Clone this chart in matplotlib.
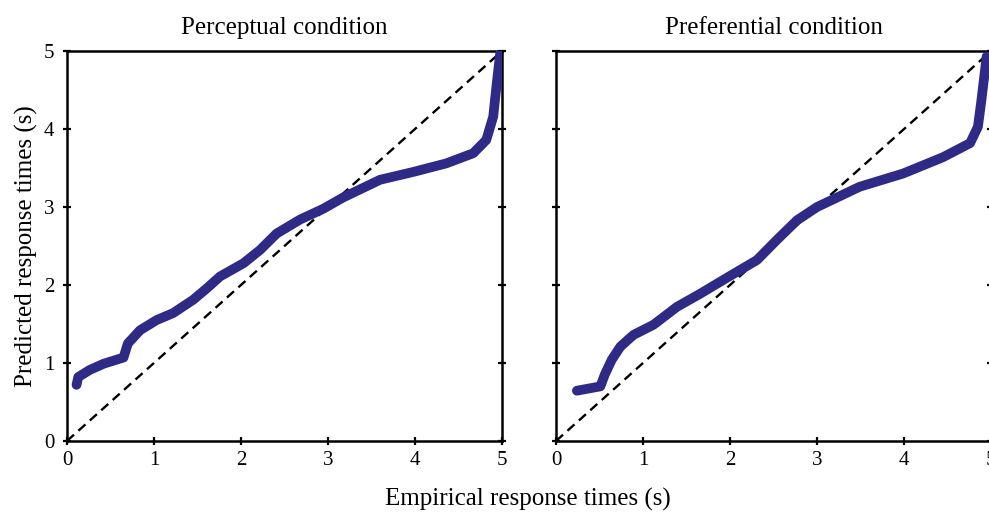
import matplotlib.pyplot as plt

# Q-Q style comparison: empirical vs predicted response-time quantiles
percep_emp = [0.11, 0.13, 0.26, 0.42, 0.65, 0.70, 0.84, 1.03, 1.22, 1.45, 1.61, 1.76,
              2.03, 2.22, 2.41, 2.68, 2.95, 3.17, 3.60, 3.98, 4.36, 4.67, 4.82, 4.90,
              4.94, 4.98]
percep_pred = [0.72, 0.82, 0.91, 0.99, 1.07, 1.25, 1.42, 1.55, 1.64, 1.81, 1.96, 2.11,
               2.28, 2.45, 2.66, 2.84, 2.98, 3.12, 3.35, 3.45, 3.56, 3.69, 3.86, 4.16,
               4.58, 4.97]

pref_emp = [0.24, 0.51, 0.56, 0.64, 0.74, 0.89, 1.12, 1.39, 1.66, 1.96, 2.31, 2.54,
            2.77, 3.00, 3.49, 3.99, 4.45, 4.76, 4.85, 4.89, 4.95]
pref_pred = [0.645, 0.70, 0.85, 1.04, 1.21, 1.36, 1.49, 1.72, 1.89, 2.09, 2.32, 2.58,
             2.83, 3.00, 3.26, 3.43, 3.64, 3.82, 4.03, 4.37, 4.93]

titles = ["Perceptual condition", "Preferential condition"]
ticks = [0, 1, 2, 3, 4, 5]

plt.rcParams["font.family"] = ["Liberation Serif", "DejaVu Serif"]

fig = plt.figure(figsize=(9.89, 5.13), dpi=100)
ax1 = fig.add_axes([0.0677, 0.1404, 0.4398, 0.760])
ax2 = fig.add_axes([0.5622, 0.1404, 0.4398, 0.760])

curve_color = "#2e2a86"

for ax, xs, ys, title in [(ax1, percep_emp, percep_pred, titles[0]),
                          (ax2, pref_emp, pref_pred, titles[1])]:
    ax.plot([0, 5], [0, 5], color="black", linestyle=(0, (4, 2.5)), linewidth=1.7, zorder=2)
    ax.plot(xs, ys, color=curve_color, linewidth=7, solid_capstyle="round",
            solid_joinstyle="round", zorder=3)
    ax.set_xlim(0, 5)
    ax.set_ylim(0, 5)
    ax.set_xticks(ticks)
    ax.set_yticks(ticks)
    ax.set_title(title, fontsize=18, pad=12)
    for side in ["left", "right", "top", "bottom"]:
        ax.spines[side].set_linewidth(1.8)
    ax.tick_params(direction="inout", length=6, width=1.6, labelsize=15,
                   left=True, right=True, top=False, bottom=True)
    ax.tick_params(axis="x", pad=4)
    ax.tick_params(axis="y", pad=6)

ax2.tick_params(labelleft=False)
ax1.set_ylabel("Predicted response times (s)", fontsize=18, labelpad=4)
fig.text(0.534, 0.027, "Empirical response times (s)", fontsize=18, ha="center", va="center")

fig.savefig("out.png", dpi=100)
